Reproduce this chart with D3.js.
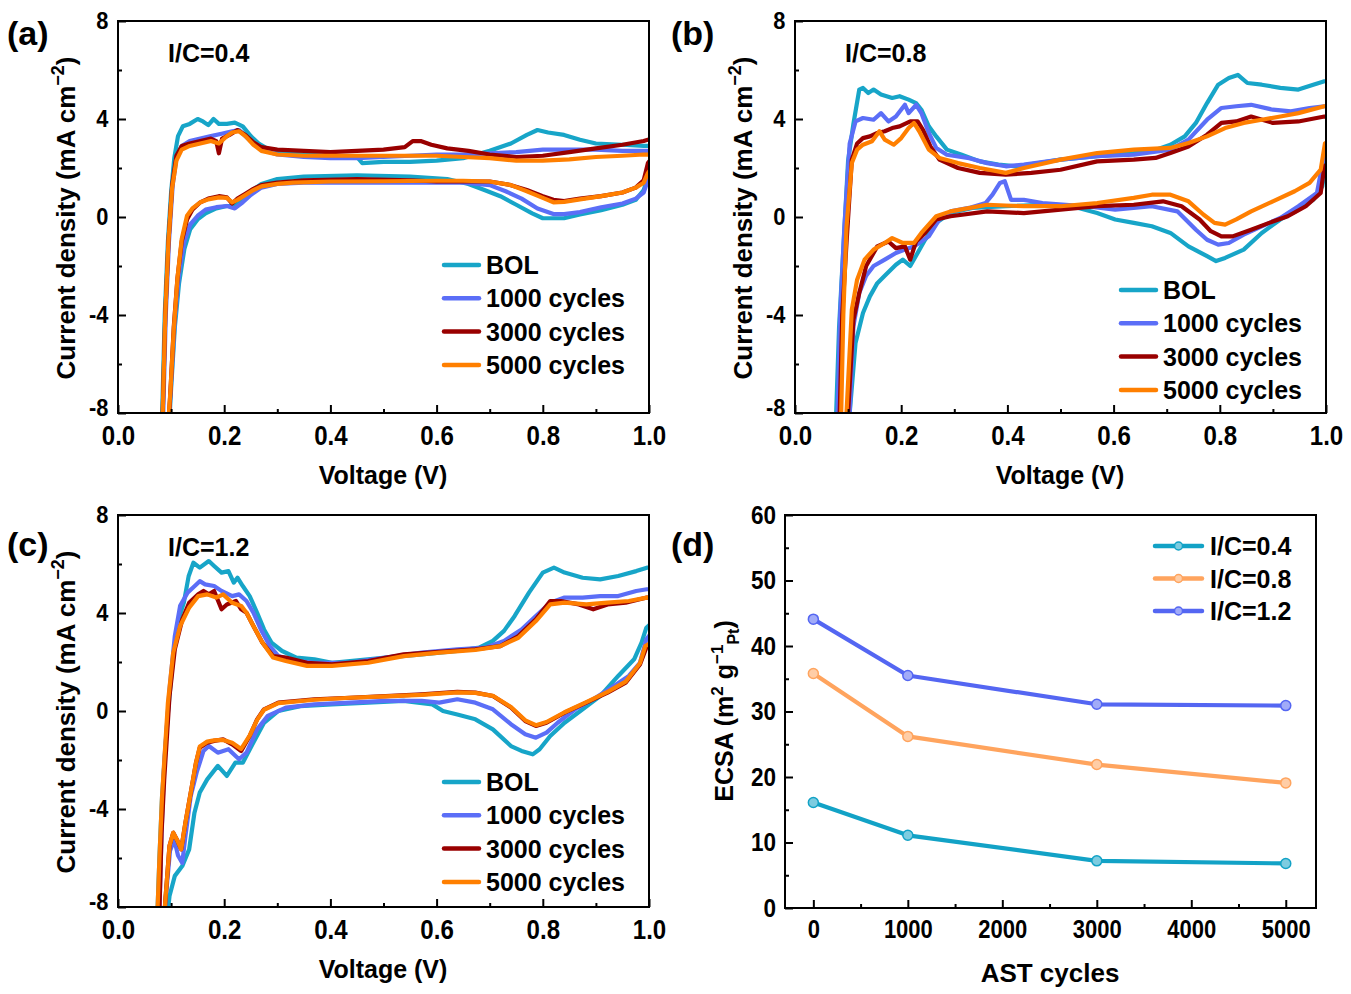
<!DOCTYPE html>
<html>
<head>
<meta charset="utf-8">
<script src="https://cdn.jsdelivr.net/npm/d3@7"></script>
<style>
body { margin: 0; background: #fff; }
svg text { font-family: "Liberation Sans", Arial, sans-serif; font-weight: bold; fill: #000; }
</style>
</head>
<body>
<svg id="fig" width="1351" height="994"></svg>
<script>
// ---- data ----
const seriesNames = ['BOL', '1000 cycles', '3000 cycles', '5000 cycles']
const voltageTicks = [0, 0.2, 0.4, 0.6, 0.8, 1.0]
const voltageMinor = [0.1, 0.3, 0.5, 0.7, 0.9]
const currentTicks = [-8, -4, 0, 4, 8]
const currentMinor = [-6, -2, 2, 6]

// [voltage V, current density mA cm-2], anodic scan then cathodic scan
const a_bol = [[0.082,-9],[0.088,-4],[0.094,-1],[0.1,1],[0.106,2.4],[0.113,3.3],[0.122,3.7],[0.135,3.8],[0.15,4.0],[0.16,3.9],[0.17,3.75],[0.18,4.0],[0.19,3.8],[0.205,3.8],[0.22,3.85],[0.235,3.7],[0.25,3.3],[0.265,3.0],[0.28,2.8],[0.3,2.65],[0.35,2.55],[0.4,2.5],[0.45,2.45],[0.46,2.2],[0.5,2.25],[0.55,2.25],[0.6,2.3],[0.65,2.4],[0.7,2.7],[0.74,3.0],[0.77,3.35],[0.79,3.55],[0.81,3.45],[0.84,3.35],[0.87,3.15],[0.9,3.0],[0.95,2.95],[0.99,2.9],[1.005,2.9],
  [1.005,1.8],[0.998,1.6],[0.99,1.1],[0.975,0.7],[0.95,0.5],[0.91,0.28],[0.87,0.1],[0.84,-0.05],[0.8,-0.05],[0.78,0.15],[0.75,0.5],[0.72,0.85],[0.69,1.1],[0.66,1.35],[0.62,1.55],[0.55,1.65],[0.45,1.7],[0.35,1.65],[0.3,1.55],[0.27,1.35],[0.25,1.05],[0.235,0.75],[0.22,0.45],[0.205,0.45],[0.185,0.35],[0.165,0.15],[0.15,-0.1],[0.136,-0.5],[0.125,-1.3],[0.115,-2.7],[0.107,-4.5],[0.1,-7],[0.095,-9]]
const a_1000 = [[0.084,-9],[0.09,-4],[0.096,-1],[0.103,1.3],[0.11,2.4],[0.12,2.9],[0.135,3.1],[0.155,3.2],[0.175,3.3],[0.195,3.4],[0.215,3.5],[0.228,3.55],[0.24,3.3],[0.255,3.0],[0.27,2.75],[0.3,2.55],[0.35,2.45],[0.4,2.4],[0.45,2.4],[0.5,2.45],[0.55,2.5],[0.6,2.55],[0.65,2.55],[0.7,2.6],[0.75,2.65],[0.8,2.75],[0.85,2.75],[0.9,2.75],[0.95,2.7],[0.99,2.7],[1.005,2.7],
  [1.005,1.7],[0.998,1.5],[0.99,1.0],[0.975,0.75],[0.95,0.55],[0.91,0.4],[0.87,0.2],[0.84,0.12],[0.82,0.12],[0.79,0.35],[0.76,0.75],[0.73,1.05],[0.7,1.3],[0.65,1.4],[0.55,1.4],[0.45,1.4],[0.35,1.4],[0.3,1.35],[0.27,1.2],[0.25,0.9],[0.235,0.6],[0.22,0.35],[0.205,0.45],[0.185,0.4],[0.165,0.3],[0.15,0.05],[0.136,-0.3],[0.125,-1.0],[0.115,-2.3],[0.107,-4.2],[0.1,-6.8],[0.094,-9]]
const a_3000 = [[0.083,-9],[0.089,-4],[0.095,-1],[0.102,1.3],[0.11,2.5],[0.12,2.9],[0.135,3.0],[0.155,3.1],[0.175,3.2],[0.185,3.1],[0.19,2.6],[0.196,3.2],[0.21,3.35],[0.225,3.55],[0.24,3.35],[0.255,3.05],[0.27,2.85],[0.3,2.75],[0.35,2.7],[0.4,2.65],[0.45,2.7],[0.5,2.75],[0.54,2.85],[0.555,3.1],[0.57,3.1],[0.59,2.95],[0.62,2.8],[0.66,2.7],[0.7,2.55],[0.75,2.45],[0.8,2.5],[0.85,2.65],[0.9,2.8],[0.95,2.95],[0.99,3.1],[1.005,3.2],
  [1.005,2.4],[0.998,2.2],[0.99,1.5],[0.975,1.2],[0.95,1.0],[0.91,0.85],[0.87,0.75],[0.84,0.65],[0.82,0.7],[0.8,0.85],[0.77,1.1],[0.74,1.3],[0.7,1.45],[0.65,1.45],[0.6,1.45],[0.55,1.5],[0.45,1.55],[0.35,1.5],[0.3,1.4],[0.27,1.3],[0.255,1.15],[0.24,0.95],[0.225,0.75],[0.215,0.55],[0.205,0.8],[0.19,0.85],[0.17,0.75],[0.155,0.6],[0.14,0.3],[0.13,-0.1],[0.12,-1.0],[0.112,-2.5],[0.105,-4.5],[0.099,-7],[0.094,-9]]
const a_5000 = [[0.083,-9],[0.089,-4],[0.095,-1],[0.102,1.2],[0.11,2.3],[0.12,2.75],[0.135,2.9],[0.155,3.0],[0.175,3.1],[0.19,3.0],[0.205,3.3],[0.215,3.45],[0.228,3.5],[0.24,3.3],[0.255,2.95],[0.27,2.7],[0.3,2.55],[0.35,2.5],[0.4,2.5],[0.45,2.5],[0.5,2.5],[0.55,2.5],[0.6,2.5],[0.65,2.45],[0.7,2.4],[0.75,2.3],[0.8,2.3],[0.85,2.35],[0.9,2.45],[0.95,2.5],[0.99,2.55],[1.005,2.55],
  [1.005,2.0],[0.998,1.8],[0.99,1.4],[0.975,1.2],[0.95,1.0],[0.91,0.85],[0.87,0.72],[0.84,0.62],[0.82,0.6],[0.8,0.78],[0.77,1.05],[0.74,1.3],[0.7,1.45],[0.65,1.48],[0.6,1.48],[0.5,1.46],[0.4,1.45],[0.33,1.4],[0.3,1.35],[0.27,1.25],[0.255,1.1],[0.24,0.9],[0.225,0.7],[0.215,0.6],[0.205,0.78],[0.19,0.8],[0.17,0.72],[0.155,0.6],[0.14,0.35],[0.13,0.05],[0.12,-0.9],[0.112,-2.5],[0.105,-4.6],[0.099,-7],[0.093,-9]]

const b_bol = [[0.076,-9],[0.083,-4.5],[0.09,-1.7],[0.1,2.3],[0.11,3.8],[0.121,5.2],[0.128,5.27],[0.138,5.06],[0.148,5.2],[0.162,5.0],[0.183,4.86],[0.197,4.93],[0.214,4.79],[0.228,4.65],[0.238,4.38],[0.252,3.7],[0.266,3.29],[0.286,2.75],[0.314,2.54],[0.348,2.27],[0.383,2.14],[0.417,2.07],[0.459,2.2],[0.5,2.34],[0.569,2.48],[0.638,2.61],[0.68,2.75],[0.707,2.95],[0.734,3.29],[0.755,3.84],[0.776,4.65],[0.797,5.4],[0.817,5.67],[0.834,5.8],[0.852,5.47],[0.879,5.4],[0.914,5.27],[0.948,5.2],[0.976,5.4],[0.997,5.54],[1.005,5.54],
  [1.005,3.0],[0.993,1.25],[0.976,0.7],[0.948,0.3],[0.914,-0.1],[0.879,-0.65],[0.845,-1.33],[0.81,-1.67],[0.793,-1.8],[0.776,-1.6],[0.741,-1.2],[0.707,-0.65],[0.672,-0.38],[0.638,-0.24],[0.603,-0.1],[0.569,0.16],[0.534,0.37],[0.466,0.5],[0.397,0.44],[0.334,0.37],[0.293,0.16],[0.266,-0.24],[0.245,-0.93],[0.217,-2.0],[0.203,-1.74],[0.19,-1.95],[0.169,-2.4],[0.155,-2.7],[0.141,-3.24],[0.128,-3.92],[0.114,-5.14],[0.103,-8],[0.1,-9]]
const b_1000 = [[0.079,-9],[0.085,-4],[0.093,-0.4],[0.103,3.0],[0.114,3.9],[0.128,4.04],[0.148,3.97],[0.162,4.24],[0.176,3.9],[0.19,4.1],[0.207,4.58],[0.214,4.24],[0.228,4.58],[0.238,4.24],[0.252,3.43],[0.266,2.82],[0.286,2.54],[0.328,2.4],[0.362,2.2],[0.397,2.07],[0.431,2.14],[0.5,2.34],[0.569,2.48],[0.638,2.54],[0.707,2.75],[0.741,3.16],[0.776,3.97],[0.803,4.45],[0.831,4.52],[0.859,4.58],[0.9,4.38],[0.934,4.31],[0.969,4.45],[0.997,4.52],[1.005,4.52],
  [1.005,2.8],[0.997,2.6],[0.983,0.98],[0.948,0.44],[0.914,-0.04],[0.879,-0.38],[0.845,-0.72],[0.817,-1.06],[0.797,-1.13],[0.776,-0.93],[0.755,-0.52],[0.72,0.23],[0.672,0.44],[0.603,0.3],[0.548,0.44],[0.466,0.57],[0.431,0.7],[0.407,0.7],[0.395,1.46],[0.386,1.39],[0.372,0.91],[0.359,0.57],[0.328,0.37],[0.293,0.23],[0.272,-0.1],[0.252,-0.79],[0.224,-1.2],[0.207,-1.33],[0.19,-1.47],[0.169,-1.74],[0.148,-2.0],[0.134,-2.4],[0.121,-3.1],[0.11,-4.46],[0.103,-8],[0.1,-9]]
const b_3000 = [[0.083,-9],[0.089,-4],[0.097,-1.06],[0.107,2.34],[0.117,3.0],[0.128,3.22],[0.141,3.29],[0.155,3.43],[0.169,3.5],[0.183,3.63],[0.197,3.7],[0.217,3.9],[0.231,3.9],[0.241,3.56],[0.255,2.88],[0.272,2.34],[0.307,2.0],[0.348,1.8],[0.397,1.73],[0.445,1.8],[0.5,1.93],[0.569,2.27],[0.638,2.34],[0.679,2.41],[0.707,2.61],[0.741,2.88],[0.776,3.36],[0.803,3.84],[0.831,3.9],[0.859,4.1],[0.9,3.84],[0.948,3.9],[0.997,4.1],[1.005,4.1],
  [1.005,2.2],[0.997,2.07],[0.99,0.98],[0.962,0.44],[0.928,0.03],[0.893,-0.24],[0.859,-0.52],[0.824,-0.79],[0.803,-0.79],[0.783,-0.58],[0.762,-0.1],[0.728,0.44],[0.693,0.64],[0.638,0.5],[0.569,0.44],[0.5,0.3],[0.431,0.16],[0.362,0.23],[0.293,0.03],[0.266,-0.1],[0.245,-0.65],[0.228,-1.0],[0.217,-1.74],[0.207,-1.2],[0.19,-1.27],[0.176,-1.0],[0.155,-1.2],[0.134,-2.0],[0.121,-3.1],[0.11,-4.2],[0.1,-8],[0.098,-9]]
const b_5000 = [[0.086,-9],[0.091,-4],[0.097,-0.4],[0.107,2.2],[0.117,2.75],[0.128,2.95],[0.145,3.09],[0.159,3.5],[0.169,3.16],[0.186,2.95],[0.2,3.22],[0.214,3.63],[0.224,3.84],[0.234,3.5],[0.252,2.75],[0.272,2.41],[0.307,2.2],[0.348,2.0],[0.397,1.8],[0.431,2.0],[0.5,2.34],[0.569,2.61],[0.638,2.75],[0.707,2.82],[0.741,3.02],[0.776,3.29],[0.81,3.63],[0.845,3.84],[0.879,3.97],[0.914,4.1],[0.948,4.24],[0.997,4.52],[1.005,4.52],
  [1.005,3.1],[0.998,3.0],[0.99,1.93],[0.969,1.39],[0.941,1.05],[0.9,0.64],[0.859,0.23],[0.831,-0.1],[0.81,-0.31],[0.79,-0.24],[0.769,0.1],[0.741,0.64],[0.707,0.91],[0.672,0.91],[0.638,0.78],[0.569,0.57],[0.5,0.44],[0.431,0.44],[0.362,0.5],[0.293,0.23],[0.266,0.03],[0.238,-0.65],[0.224,-1.06],[0.203,-1.06],[0.183,-0.86],[0.169,-1.06],[0.148,-1.33],[0.131,-1.74],[0.117,-2.56],[0.107,-3.78],[0.097,-8],[0.095,-9]]

const c_bol = [[0.073,-9],[0.078,-6],[0.083,-3.47],[0.094,-0.07],[0.104,2.24],[0.114,3.74],[0.124,4.42],[0.133,5.5],[0.142,6.05],[0.154,5.85],[0.171,6.12],[0.181,5.92],[0.195,5.65],[0.208,5.71],[0.218,5.24],[0.225,5.44],[0.235,5.1],[0.248,4.69],[0.262,4.01],[0.275,3.33],[0.289,2.79],[0.309,2.45],[0.336,2.18],[0.37,2.11],[0.403,1.97],[0.437,2.04],[0.504,2.18],[0.572,2.31],[0.639,2.45],[0.68,2.59],[0.706,2.86],[0.727,3.27],[0.747,3.88],[0.774,4.83],[0.8,5.65],[0.821,5.85],[0.841,5.65],[0.875,5.44],[0.908,5.37],[0.942,5.51],[0.976,5.71],[0.996,5.85],[1.005,5.85],
  [1.005,3.6],[0.995,3.4],[0.986,2.79],[0.972,2.11],[0.942,1.43],[0.908,0.61],[0.875,0.07],[0.841,-0.48],[0.814,-1.02],[0.794,-1.56],[0.781,-1.77],[0.76,-1.63],[0.74,-1.43],[0.706,-0.75],[0.673,-0.34],[0.639,-0.14],[0.612,0.0],[0.592,0.27],[0.538,0.41],[0.471,0.34],[0.403,0.27],[0.343,0.2],[0.302,0.0],[0.275,-0.48],[0.255,-1.29],[0.235,-2.11],[0.221,-2.11],[0.205,-2.65],[0.188,-2.24],[0.168,-2.79],[0.154,-3.33],[0.144,-4.15],[0.134,-5.65],[0.121,-6.33],[0.107,-6.73],[0.097,-7.55],[0.09,-9]]
const c_1000 = [[0.077,-9],[0.082,-5],[0.087,-2.1],[0.097,0.88],[0.107,3.06],[0.117,4.29],[0.131,4.83],[0.141,5.03],[0.154,5.3],[0.164,5.17],[0.181,5.1],[0.195,4.9],[0.215,4.69],[0.228,4.76],[0.242,4.49],[0.255,4.01],[0.269,3.33],[0.286,2.65],[0.302,2.24],[0.336,2.04],[0.37,1.97],[0.437,1.97],[0.504,2.18],[0.572,2.38],[0.639,2.52],[0.693,2.59],[0.727,2.86],[0.76,3.33],[0.787,3.88],[0.814,4.42],[0.841,4.63],[0.875,4.63],[0.908,4.69],[0.942,4.69],[0.976,4.9],[0.996,4.97],[1.005,4.97],
  [1.005,3.2],[0.995,2.93],[0.983,1.97],[0.962,1.43],[0.929,0.95],[0.895,0.48],[0.861,0.07],[0.828,-0.48],[0.807,-0.88],[0.787,-1.09],[0.767,-0.95],[0.74,-0.54],[0.706,0.07],[0.673,0.34],[0.639,0.48],[0.605,0.34],[0.572,0.41],[0.504,0.41],[0.437,0.34],[0.37,0.27],[0.316,0.14],[0.282,-0.2],[0.262,-0.75],[0.242,-1.7],[0.228,-1.97],[0.208,-1.56],[0.188,-1.7],[0.171,-1.43],[0.161,-1.63],[0.148,-2.52],[0.137,-3.47],[0.127,-5.1],[0.121,-6.2],[0.113,-5.9],[0.106,-5.25],[0.098,-5.7],[0.09,-7.6],[0.086,-9]]
const c_3000 = [[0.077,-9],[0.082,-5],[0.087,-2.8],[0.097,0.61],[0.107,2.52],[0.121,3.74],[0.134,4.42],[0.151,4.76],[0.161,4.9],[0.171,4.76],[0.181,4.9],[0.195,4.15],[0.205,4.35],[0.222,4.49],[0.232,4.15],[0.242,4.01],[0.255,3.47],[0.272,2.79],[0.292,2.24],[0.316,2.18],[0.356,1.97],[0.403,1.9],[0.471,2.04],[0.538,2.31],[0.605,2.41],[0.673,2.52],[0.72,2.65],[0.754,3.06],[0.787,3.74],[0.814,4.49],[0.834,4.49],[0.868,4.35],[0.895,4.15],[0.922,4.35],[0.956,4.42],[0.996,4.63],[1.005,4.63],
  [1.005,2.8],[0.995,2.59],[0.983,1.9],[0.956,1.16],[0.922,0.75],[0.882,0.34],[0.841,-0.07],[0.807,-0.48],[0.787,-0.61],[0.767,-0.41],[0.74,0.14],[0.706,0.61],[0.673,0.75],[0.639,0.78],[0.572,0.68],[0.504,0.61],[0.437,0.54],[0.37,0.48],[0.302,0.34],[0.275,0.07],[0.262,-0.34],[0.248,-1.02],[0.232,-1.63],[0.215,-1.36],[0.198,-1.16],[0.181,-1.22],[0.168,-1.29],[0.154,-1.5],[0.147,-2.1],[0.137,-3.33],[0.127,-4.56],[0.119,-5.65],[0.112,-5.3],[0.104,-4.97],[0.097,-5.5],[0.09,-7.5],[0.085,-9]]
const c_5000 = [[0.073,-9],[0.078,-6],[0.083,-3.47],[0.094,0.34],[0.104,2.38],[0.117,3.47],[0.134,4.22],[0.151,4.69],[0.168,4.76],[0.185,4.63],[0.198,4.76],[0.215,4.42],[0.232,4.29],[0.242,4.01],[0.255,3.47],[0.272,2.79],[0.292,2.18],[0.316,2.04],[0.356,1.84],[0.403,1.84],[0.471,1.97],[0.538,2.24],[0.605,2.38],[0.673,2.49],[0.72,2.65],[0.754,2.99],[0.787,3.67],[0.814,4.35],[0.841,4.42],[0.882,4.35],[0.922,4.42],[0.962,4.49],[0.996,4.63],[1.005,4.63],
  [1.005,2.8],[0.993,2.65],[0.983,1.95],[0.956,1.2],[0.922,0.78],[0.882,0.36],[0.841,-0.05],[0.807,-0.45],[0.787,-0.58],[0.767,-0.38],[0.74,0.16],[0.706,0.62],[0.673,0.74],[0.639,0.76],[0.572,0.66],[0.504,0.6],[0.437,0.54],[0.37,0.46],[0.302,0.32],[0.275,0.05],[0.262,-0.36],[0.248,-1.0],[0.232,-1.55],[0.215,-1.3],[0.198,-1.18],[0.181,-1.2],[0.168,-1.25],[0.154,-1.45],[0.147,-2.1],[0.137,-3.33],[0.127,-4.56],[0.119,-5.65],[0.112,-5.3],[0.104,-4.97],[0.097,-5.5],[0.09,-7.5],[0.085,-9]]

// ECSA vs AST cycles
const astCycles = [0, 1000, 3000, 5000]
const icNames = ['I/C=0.4', 'I/C=0.8', 'I/C=1.2']
const ecsa04 = [16.1, 11.1, 7.2, 6.8]
const ecsa08 = [35.8, 26.2, 21.9, 19.1]
const ecsa12 = [44.1, 35.5, 31.1, 30.9]
const cycleTicks = [0, 1000, 2000, 3000, 4000, 5000]
const cycleMinor = [500, 1500, 2500, 3500, 4500]
const ecsaTicks = [0, 10, 20, 30, 40, 50, 60]
const ecsaMinor = [5, 15, 25, 35, 45, 55]

// ---- drawing ----
const svg = d3.select('#fig')
const cvColors = ['#17a5c8', '#5b6ef7', '#990000', '#ff7f00']
const icColors = ['#12a2c6', '#ffa45e', '#5466f2']

// font: [size px, horizontal squeeze] or null for minor ticks
function styleAxis(sel, font) {
	sel.select('.domain').remove()
	sel.selectAll('.tick line').attr('stroke', '#000').attr('stroke-width', 2)
	if (font) {
		sel.selectAll('.tick text')
			.style('font-size', `${font[0]}px`)
			.attr('transform', `scale(${font[1]},1)`)
	}
}

function frame(g, x, y, xt, xm, yt, ym, xfmt, yfmt, xFont, yFont, lift) {
	const w = x.range()[1]
	const h = y.range()[0]

	g.append('g')
		.attr('transform', `translate(0,${h})`)
		.call(d3.axisBottom(x).tickValues(xt).tickFormat(xfmt).tickSizeInner(-8).tickSizeOuter(0).tickPadding(12))
		.call(s => styleAxis(s, xFont))
	g.append('g')
		.attr('transform', `translate(0,${h})`)
		.call(d3.axisBottom(x).tickValues(xm).tickFormat('').tickSizeInner(-4).tickSizeOuter(0))
		.call(s => styleAxis(s, null))
	g.append('g')
		.call(d3.axisLeft(y).tickValues(yt).tickFormat(yfmt).tickSizeInner(-8).tickSizeOuter(0).tickPadding(10))
		.call(s => styleAxis(s, yFont))
		// lift the lowest label a little so it clears the corner label below
		.call(s => s.selectAll('.tick text').filter(d => d === yt[0]).attr('y', -lift))
	g.append('g')
		.call(d3.axisLeft(y).tickValues(ym).tickFormat('').tickSizeInner(-4).tickSizeOuter(0))
		.call(s => styleAxis(s, null))

	g.append('rect')
		.attr('width', w)
		.attr('height', h)
		.attr('fill', 'none')
		.attr('stroke', '#000')
		.attr('stroke-width', 2)
}

function drawCV(p) {
	const x = d3.scaleLinear().domain([0, 1]).range([0, 531])
	const y = d3.scaleLinear().domain([-8, 8]).range([392, 0])
	const g = svg.append('g').attr('transform', `translate(${p.left},${p.top})`)

	g.append('clipPath')
		.attr('id', `clip-${p.id}`)
		.append('rect')
		.attr('width', 531)
		.attr('height', 392)

	const line = d3.line().x(d => x(d[0])).y(d => y(d[1]))

	g.append('g')
		.attr('clip-path', `url(#clip-${p.id})`)
		.selectAll('path')
		.data(p.curves)
		.join('path')
		.attr('d', line)
		.attr('fill', 'none')
		.attr('stroke', (d, i) => cvColors[i])
		.attr('stroke-width', 4.2)
		.attr('stroke-linejoin', 'round')
		.attr('stroke-linecap', 'round')

	frame(g, x, y, voltageTicks, voltageMinor, currentTicks, currentMinor,
		d3.format('.1f'), d => String(d), [28, 0.86], [23, 0.95], 5)

	g.append('text')
		.attr('x', 50)
		.attr('y', 41)
		.style('font-size', '25px')
		.text(p.ic)

	// legend
	const lg = g.append('g').attr('transform', `translate(326,${p.legendTop})`)
	seriesNames.forEach((name, i) => {
		lg.append('line')
			.attr('x1', 0).attr('x2', 35)
			.attr('y1', i * 33.3).attr('y2', i * 33.3)
			.attr('stroke', cvColors[i])
			.attr('stroke-width', 4.5)
			.attr('stroke-linecap', 'round')
		lg.append('text')
			.attr('x', 42)
			.attr('y', i * 33.3)
			.attr('dy', '0.36em')
			.style('font-size', '25px')
			.text(name)
	})

	// axis titles
	g.append('text')
		.attr('x', 265)
		.attr('y', 392 + 71)
		.attr('text-anchor', 'middle')
		.style('font-size', '25px')
		.text('Voltage (V)')

	const yt = g.append('text')
		.attr('transform', `translate(-43,197) rotate(-90)`)
		.attr('text-anchor', 'middle')
		.style('font-size', '26px')
	yt.append('tspan').text('Current density (mA cm')
	yt.append('tspan').attr('dy', -11).style('font-size', '18px').text('\u22122')
	yt.append('tspan').attr('dy', 11).text(')')

	svg.append('text')
		.attr('x', p.letterX)
		.attr('y', p.letterY)
		.style('font-size', '34px')
		.text(p.letter)
}

drawCV({ id: 'a', left: 118, top: 21, curves: [a_bol, a_1000, a_3000, a_5000], ic: 'I/C=0.4', legendTop: 244, letter: '(a)', letterX: 7, letterY: 45 })
drawCV({ id: 'b', left: 795, top: 21, curves: [b_bol, b_1000, b_3000, b_5000], ic: 'I/C=0.8', legendTop: 269, letter: '(b)', letterX: 671, letterY: 45 })
drawCV({ id: 'c', left: 118, top: 515, curves: [c_bol, c_1000, c_3000, c_5000], ic: 'I/C=1.2', legendTop: 267, letter: '(c)', letterX: 7, letterY: 556 })

// panel (d)
{
	const x = d3.scaleLinear().domain([-300, 5320]).range([0, 531])
	const y = d3.scaleLinear().domain([0, 60]).range([393, 0])
	const g = svg.append('g').attr('transform', 'translate(785,515)')

	const sets = [ecsa04, ecsa08, ecsa12]
	const line = d3.line().x((d, i) => x(astCycles[i])).y(d => y(d))

	sets.forEach((vals, k) => {
		g.append('path')
			.attr('d', line(vals))
			.attr('fill', 'none')
			.attr('stroke', icColors[k])
			.attr('stroke-width', 4.2)
			.attr('stroke-linejoin', 'round')
		g.selectAll(null)
			.data(vals)
			.join('circle')
			.attr('cx', (d, i) => x(astCycles[i]))
			.attr('cy', d => y(d))
			.attr('r', 5)
			.attr('fill', d3.interpolateRgb(icColors[k], '#fff')(0.45))
			.attr('stroke', icColors[k])
			.attr('stroke-width', 1.5)
	})

	frame(g, x, y, cycleTicks, cycleMinor, ecsaTicks, ecsaMinor,
		d => String(d), d => String(d), [25, 0.88], [25, 0.9], 0)

	const lg = g.append('g').attr('transform', 'translate(370,31)')
	icNames.forEach((name, i) => {
		lg.append('line')
			.attr('x1', 0).attr('x2', 47)
			.attr('y1', i * 32.5).attr('y2', i * 32.5)
			.attr('stroke', icColors[i])
			.attr('stroke-width', 4.5)
			.attr('stroke-linecap', 'round')
		lg.append('circle')
			.attr('cx', 23.5)
			.attr('cy', i * 32.5)
			.attr('r', 4)
			.attr('fill', d3.interpolateRgb(icColors[i], '#fff')(0.45))
			.attr('stroke', icColors[i])
			.attr('stroke-width', 1.5)
		lg.append('text')
			.attr('x', 55)
			.attr('y', i * 32.5)
			.attr('dy', '0.36em')
			.style('font-size', '25px')
			.text(name)
	})

	g.append('text')
		.attr('x', 265)
		.attr('y', 393 + 74)
		.attr('text-anchor', 'middle')
		.style('font-size', '26px')
		.text('AST cycles')

	const yt = g.append('text')
		.attr('transform', 'translate(-52,196) rotate(-90)')
		.attr('text-anchor', 'middle')
		.style('font-size', '25px')
	yt.append('tspan').text('ECSA (m')
	yt.append('tspan').attr('dy', -10).style('font-size', '17px').text('2')
	yt.append('tspan').attr('dy', 10).text(' g')
	yt.append('tspan').attr('dy', -10).style('font-size', '17px').text('\u22121')
	yt.append('tspan').attr('dy', 16).style('font-size', '16px').text('Pt')
	yt.append('tspan').attr('dy', -6).text(')')

	svg.append('text')
		.attr('x', 671)
		.attr('y', 556)
		.style('font-size', '34px')
		.text('(d)')
}
</script>
</body>
</html>
